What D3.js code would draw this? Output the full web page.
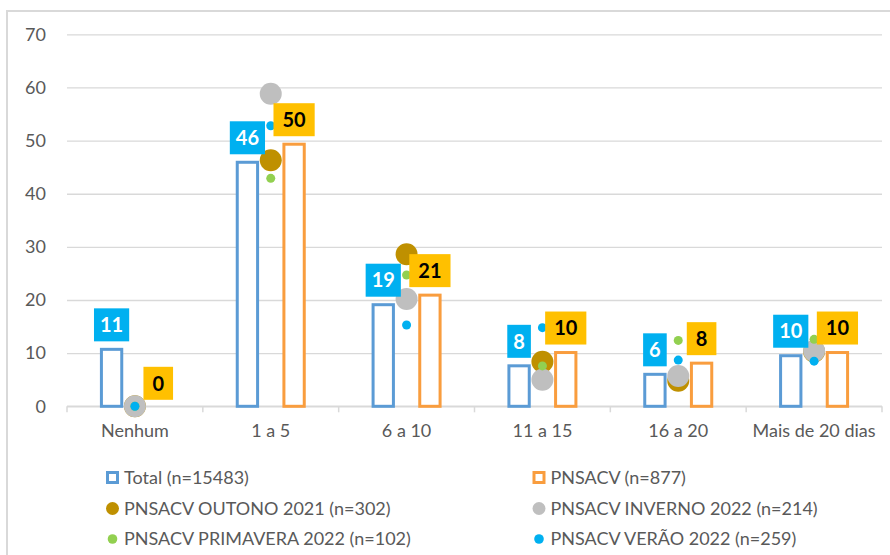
<!DOCTYPE html>
<html lang="pt">
<head>
<meta charset="UTF-8">
<title>Dias</title>
<style>
  body { margin: 0; background: #fff; }
  svg text { font-family: Lato, "Open Sans", sans-serif; fill: #595959; }
  .grid line { stroke: #d9d9d9; stroke-width: 1.3; }
  .grid .domain { display: none; }
</style>
</head>
<body>
<svg></svg>
<script src="https://d3js.org/d3.v7.min.js"></script>
<script>
// categories and series
var categories = ["Nenhum", "1 a 5", "6 a 10", "11 a 15", "16 a 20", "Mais de 20 dias"];
var total   = [11.0, 46.2, 19.4, 7.9, 6.3, 9.8];
var pnsacv  = [0.0, 49.6, 21.2, 10.4, 8.4, 10.4];
var outono    = [0, 46.3, 28.6, 8.4, 4.8, 10.3];
var inverno   = [0, 58.8, 20.2, 5.0, 5.7, 10.4];
var primavera = [0, 42.9, 24.7, 7.6, 12.4, 12.6];
var verao     = [0, 52.8, 15.3, 14.8, 8.7, 8.5];
var yTicks = [0, 10, 20, 30, 40, 50, 60, 70];

var legendNames = ["Total (n=15483)", "PNSACV (n=877)",
  "PNSACV OUTONO 2021 (n=302)", "PNSACV INVERNO 2022 (n=214)",
  "PNSACV PRIMAVERA 2022 (n=102)", "PNSACV VERÃO 2022 (n=259)"];

var W = 890, H = 555;
var plotLeft = 67, plotRight = 882, plotTop = 34.3, plotBottom = 406.3;

var svg = d3.select("svg").attr("width", W).attr("height", H);

// chart border (top + left only visible)
svg.append("path")
  .attr("d", "M7,555 L7,11 L890,11")
  .attr("fill", "none").attr("stroke", "#d9d9d9").attr("stroke-width", 2);

var x = d3.scaleBand().domain(categories).range([plotLeft, plotRight]);
var sub = d3.scaleBand().domain(["Total", "dots", "PNSACV"]).range([-35, 35]);
var y = d3.scaleLinear().domain([0, 70]).range([plotBottom, plotTop]);

// gridlines + y labels
svg.append("g").attr("class", "grid")
  .attr("transform", "translate(" + plotLeft + ",0)")
  .call(d3.axisLeft(y).tickValues(yTicks).tickSize(-(plotRight - plotLeft)).tickPadding(21))
  .selectAll("text").style("font-size", "18px").attr("fill", "#595959");

// x axis line, boundary ticks, labels
svg.append("line").attr("x1", plotLeft).attr("x2", plotRight).attr("y1", y(0)).attr("y2", y(0))
  .attr("stroke", "#d9d9d9").attr("stroke-width", 1.5);
var bounds = categories.map(function(c) { return x(c); }).concat([plotRight]);
svg.selectAll(".btick").data(bounds).enter().append("line")
  .attr("x1", function(d) { return d; }).attr("x2", function(d) { return d; })
  .attr("y1", y(0)).attr("y2", y(0) + 6)
  .attr("stroke", "#d9d9d9").attr("stroke-width", 1.5);
svg.selectAll(".clabel").data(categories).enter().append("text")
  .attr("x", function(d) { return x(d) + x.bandwidth() / 2; })
  .attr("y", 437)
  .attr("text-anchor", "middle")
  .style("font-size", "18px")
  .text(function(d) { return d; });

// bars
function drawBars(vals, key, color) {
  svg.append("g").selectAll("rect").data(vals).enter().append("rect")
    .attr("x", function(d, i) { return x(categories[i]) + x.bandwidth() / 2 + sub(key) + 1.5; })
    .attr("width", sub.bandwidth() - 3)
    .attr("y", function(d) { return y(d) + 1.5; })
    .attr("height", function(d) { return Math.max(0, y(0) - y(d) - 1.5); })
    .attr("fill", "#fff")
    .attr("stroke", color).attr("stroke-width", 3)
    .style("display", function(d) { return d > 0 ? null : "none"; });
}
drawBars(total, "Total", "#5b9bd5");
drawBars(pnsacv, "PNSACV", "#f99d3e");

// dots
function drawDots(vals, color, r) {
  svg.append("g").selectAll("circle").data(vals).enter().append("circle")
    .attr("cx", function(d, i) { return x(categories[i]) + x.bandwidth() / 2 + sub("dots") + sub.bandwidth() / 2; })
    .attr("cy", function(d) { return y(d); })
    .attr("r", r)
    .attr("fill", color);
}
drawDots(outono, "#bf9000", 11);
drawDots(inverno, "#bfbfbf", 11);
drawDots(primavera, "#92d050", 4.5);
drawDots(verao, "#00b0f0", 4.5);

// data labels
function drawLabels(vals, key, bg, fg, pad) {
  var g = svg.append("g");
  vals.forEach(function(v, i) {
    var cx = x(categories[i]) + x.bandwidth() / 2 + sub(key) + sub.bandwidth() / 2;
    var lg = g.append("g");
    var t = lg.append("text")
      .attr("x", cx).attr("text-anchor", "middle")
      .style("font-size", "20px").style("font-weight", "bold")
      .style("fill", fg)
      .text(Math.round(v));
    var tw = t.node().getComputedTextLength();
    var bh = 33, by = y(v) - 6.5 - bh;
    lg.insert("rect", "text")
      .attr("x", cx - (tw + pad) / 2).attr("y", by)
      .attr("width", tw + pad).attr("height", bh)
      .attr("fill", bg);
    t.attr("y", by + bh / 2).attr("dy", "0.36em");
  });
}
drawLabels(total, "Total", "#00b0f0", "#ffffff", 12);
drawLabels(pnsacv, "PNSACV", "#ffc000", "#000000", 18);

// legend
var legendX = [112.5, 539], legendY = [477.5, 508.5, 539];
var legendMarks = [
  { type: "rect", color: "#5b9bd5" }, { type: "rect", color: "#f99d3e" },
  { type: "circle", color: "#bf9000", r: 6.5 }, { type: "circle", color: "#bfbfbf", r: 6.5 },
  { type: "circle", color: "#92d050", r: 4.8 }, { type: "circle", color: "#00b0f0", r: 4.8 }
];
legendNames.forEach(function(name, i) {
  var cx = legendX[i % 2], cy = legendY[Math.floor(i / 2)];
  var m = legendMarks[i];
  if (m.type === "rect") {
    svg.append("rect").attr("x", cx - 5).attr("y", cy - 5).attr("width", 10).attr("height", 10)
      .attr("fill", "#fff").attr("stroke", m.color).attr("stroke-width", 3);
  } else {
    svg.append("circle").attr("cx", cx).attr("cy", cy).attr("r", m.r).attr("fill", m.color);
  }
  svg.append("text").attr("x", cx + 11.5).attr("y", cy).attr("dy", "0.35em")
    .style("font-size", "18px").text(name);
});
</script>
</body>
</html>
